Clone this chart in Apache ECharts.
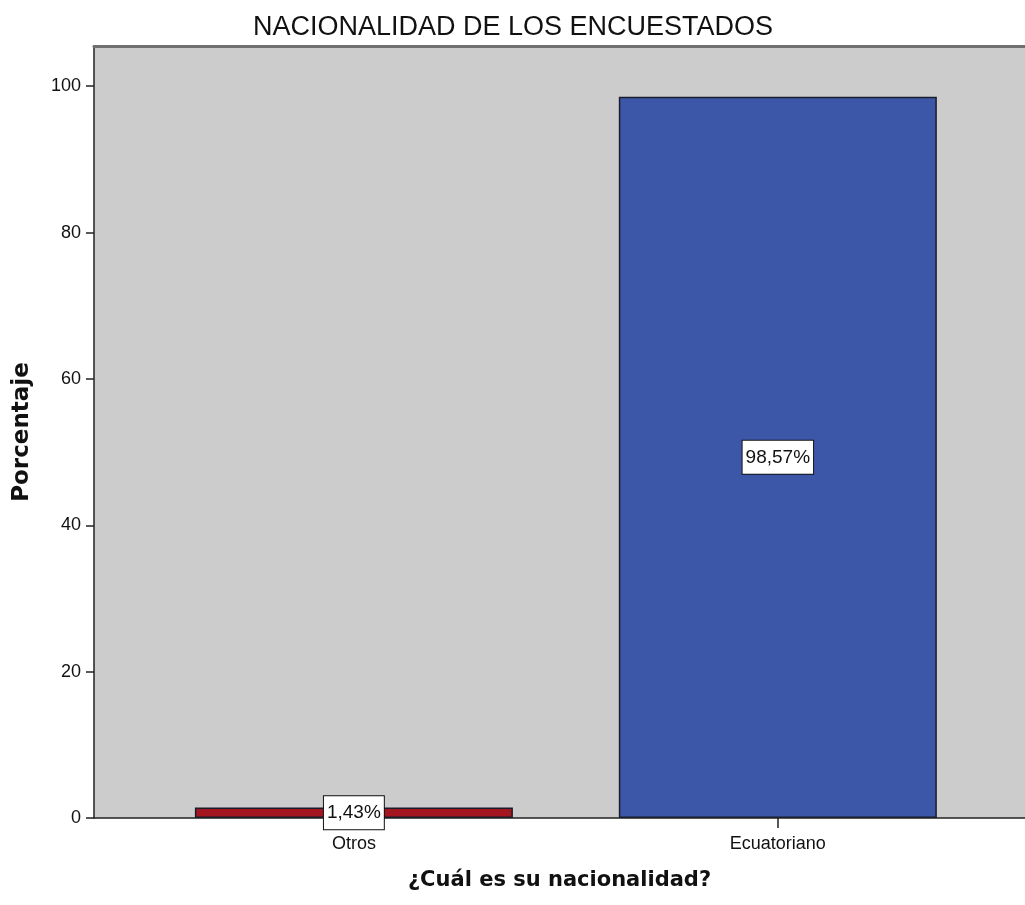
<!DOCTYPE html>
<html>
<head>
<meta charset="utf-8">
<script src="https://cdn.jsdelivr.net/npm/echarts@6/dist/echarts.min.js"></script>
<style>
  html, body { margin: 0; padding: 0; background: #fff; }
  #chart { width: 1025px; height: 905px; }
</style>
</head>
<body>
<div id="chart"></div>
<script>
// datos del grafico
const categories = ['Otros', 'Ecuatoriano'];
const percentages = [1.43, 98.57];
const barColors = ['#a3161f', '#3d57a8'];
const yTicks = [0, 20, 40, 60, 80, 100];
const catPositions = [0, 1];

const chart = echarts.init(document.getElementById('chart'));

const arial = '"Liberation Sans", Arial, sans-serif';
const boldFont = '"DejaVu Sans", Verdana, sans-serif';

const option = {
  animation: false,
  backgroundColor: '#ffffff',
  title: {
    text: 'NACIONALIDAD DE LOS ENCUESTADOS',
    left: 248,
    top: 9,
    textStyle: { fontFamily: arial, fontSize: 27, fontWeight: 'normal', color: '#111' }
  },
  grid: {
    left: 94,
    top: 46,
    right: 0,
    bottom: 87,
    show: true,
    backgroundColor: '#cccccc',
    borderWidth: 0
  },
  xAxis: [
    {
      type: 'value',
      min: -0.613,
      max: 1.583,
      name: '¿Cuál es su nacionalidad?',
      nameLocation: 'middle',
      nameGap: 52,
      nameTextStyle: { fontFamily: boldFont, fontSize: 21, fontWeight: 'bold', color: '#111' },
      axisLine: { show: true, onZero: false, lineStyle: { color: '#222', width: 1.5 } },
      axisTick: { show: true, length: 10, customValues: catPositions, lineStyle: { color: '#222', width: 1.5 } },
      axisLabel: {
        customValues: catPositions,
        margin: 17,
        fontFamily: arial,
        fontSize: 18,
        color: '#111',
        formatter: v => categories[Math.round(v)]
      },
      splitLine: { show: false }
    },
    {
      type: 'value',
      position: 'top',
      min: 0,
      max: 1,
      axisLine: { show: true, onZero: false, lineStyle: { color: '#707070', width: 3 } },
      axisTick: { show: false },
      axisLabel: { show: false },
      splitLine: { show: false }
    }
  ],
  yAxis: {
    type: 'value',
    min: 0,
    max: 105.5,
    name: 'Porcentaje',
    nameLocation: 'middle',
    nameGap: 60,
    nameTextStyle: { fontFamily: boldFont, fontSize: 23, fontWeight: 'bold', color: '#111' },
    axisLine: { show: true, onZero: false, lineStyle: { color: '#222', width: 1.5 } },
    axisTick: { show: true, length: 8, customValues: yTicks, lineStyle: { color: '#222', width: 1.5 } },
    axisLabel: { customValues: yTicks, margin: 13, fontFamily: arial, fontSize: 18, color: '#111' },
    splitLine: { show: false }
  },
  series: [
    {
      type: 'bar',
      barWidth: 318,
      data: percentages.map((v, i) => ({
        value: [catPositions[i], v],
        itemStyle: { color: barColors[i], borderColor: '#1a1d2a', borderWidth: 1.5 }
      })),
      label: {
        show: true,
        position: 'inside',
        formatter: p => p.value[1].toFixed(2).replace('.', ',') + '%',
        fontFamily: arial,
        fontSize: 19,
        color: '#111',
        backgroundColor: '#ffffff',
        borderColor: '#111',
        borderWidth: 1,
        padding: [8, 3, 6, 3]
      }
    }
  ]
};

chart.setOption(option);
</script>
</body>
</html>
